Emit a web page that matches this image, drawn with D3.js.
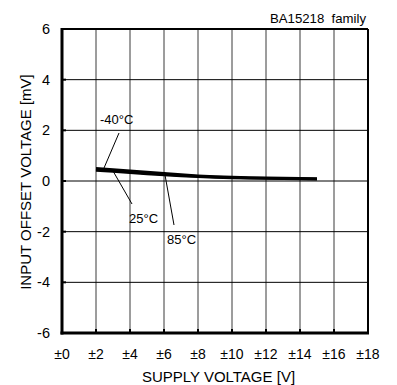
<!DOCTYPE html>
<html><head><meta charset="utf-8">
<script src="https://cdn.jsdelivr.net/npm/d3@7"></script>
<style>body{margin:0;background:#fff}svg{display:block}text{font-family:"Liberation Sans",Arial,sans-serif;fill:#000;white-space:pre}</style>
</head><body>
<svg id="c" width="397" height="385"></svg>
<script>
const xTicks = [0,2,4,6,8,10,12,14,16,18];
const xTickLabels = ["±0","±2","±4","±6","±8","±10","±12","±14","±16","±18"];
const yTicks = [-6,-4,-2,0,2,4,6];
const supply = [2,3,4,5,6,7,8,9,10,11,12,13,14,15];
const offsetM40 = [0.50,0.45,0.40,0.35,0.30,0.25,0.21,0.18,0.16,0.14,0.13,0.12,0.11,0.10];
const offset25  = [0.46,0.41,0.36,0.31,0.27,0.22,0.19,0.16,0.14,0.12,0.11,0.10,0.09,0.08];
const offset85  = [0.42,0.38,0.33,0.28,0.24,0.20,0.17,0.14,0.12,0.11,0.10,0.09,0.08,0.07];
const title = "BA15218  family";
const xTitle = "SUPPLY VOLTAGE [V]";
const yTitle = "INPUT OFFSET VOLTAGE [mV]";

const L=62,R=368,T=29,B=333;
const x=d3.scaleLinear().domain([0,18]).range([L,R]);
const y=d3.scaleLinear().domain([-6,6]).range([B,T]);
const svg=d3.select("#c");

// grid
svg.append("g").selectAll("line").data(xTicks.slice(1,-1)).join("line")
 .attr("x1",d=>x(d)).attr("x2",d=>x(d)).attr("y1",T).attr("y2",B)
 .attr("stroke","#3a3a3a").attr("stroke-width",1);
svg.append("g").selectAll("line").data(yTicks.slice(1,-1)).join("line")
 .attr("x1",L).attr("x2",R).attr("y1",d=>y(d)).attr("y2",d=>y(d))
 .attr("stroke","#000").attr("stroke-width",1);
// inner ticks
svg.append("g").selectAll("line").data(xTicks.slice(1,-1)).join("line")
 .attr("x1",d=>x(d)).attr("x2",d=>x(d)).attr("y1",B).attr("y2",B-4)
 .attr("stroke","#000").attr("stroke-width",2);
svg.append("g").selectAll("line").data(yTicks.slice(1,-1)).join("line")
 .attr("x1",L).attr("x2",L+4).attr("y1",d=>y(d)).attr("y2",d=>y(d))
 .attr("stroke","#000").attr("stroke-width",2);
// frame
svg.append("line").attr("x1",L).attr("x2",R).attr("y1",T).attr("y2",T).attr("stroke","#000").attr("stroke-width",2);
svg.append("line").attr("x1",R).attr("x2",R).attr("y1",T).attr("y2",B).attr("stroke","#000").attr("stroke-width",2);
svg.append("line").attr("x1",L).attr("x2",L).attr("y1",T-1).attr("y2",B+1.5).attr("stroke","#000").attr("stroke-width",3);
svg.append("line").attr("x1",L-1.5).attr("x2",R+1).attr("y1",B).attr("y2",B).attr("stroke","#000").attr("stroke-width",3);

// tick labels
svg.append("g").selectAll("text").data(xTicks).join("text")
 .attr("x",d=>x(d)).attr("y",359).attr("text-anchor","middle").attr("font-size",14)
 .text((d,i)=>xTickLabels[i]);
svg.append("g").selectAll("text").data(yTicks).join("text")
 .attr("x",50).attr("y",d=>y(d)+5).attr("text-anchor","end").attr("font-size",14.5)
 .text(d=>d);

svg.append("text").attr("x",218.5).attr("y",382).attr("text-anchor","middle").attr("font-size",15).text(xTitle);
svg.append("text").attr("transform","translate(31,182) rotate(-90)").attr("text-anchor","middle").attr("font-size",15).text(yTitle);
svg.append("text").attr("x",366).attr("y",23).attr("text-anchor","end").attr("font-size",13.2).attr("xml:space","preserve").text(title);

// data lines
const line=d3.line().x((d,i)=>x(supply[i])).y(d=>y(d));
[offsetM40,offset25,offset85].forEach(s=>{
 svg.append("path").datum(s).attr("d",line).attr("fill","none").attr("stroke","#000").attr("stroke-width",2.6);
});

// annotations
function lead(x1,y1,x2,y2){svg.append("line").attr("x1",x1).attr("y1",y1).attr("x2",x2).attr("y2",y2).attr("stroke","#000").attr("stroke-width",1);}
lead(119,133,104,168); lead(113,171,132,204); lead(165,175,174,225);
svg.append("text").attr("x",100).attr("y",124).attr("font-size",13).text("-40°C");
svg.append("text").attr("x",129).attr("y",223).attr("font-size",13).text("25°C");
svg.append("text").attr("x",167).attr("y",244).attr("font-size",13).text("85°C");
</script>
</body></html>
